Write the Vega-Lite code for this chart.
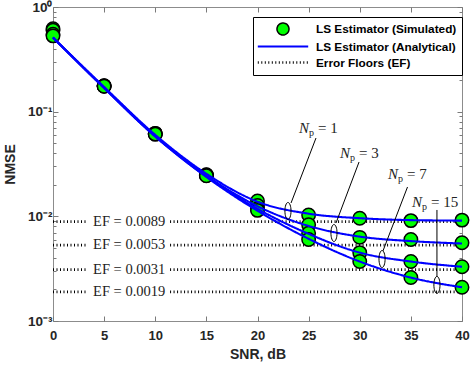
{
  "$schema": "https://vega.github.io/schema/vega-lite/v6.json",
  "width": 409,
  "height": 314,
  "autosize": {"type": "none"},
  "padding": {"left": 53, "top": 7, "right": 9, "bottom": 44},
  "background": "white",
  "config": {
    "view": {"stroke": "#8c8c8c", "strokeWidth": 1},
    "axis": {
      "domain": false,
      "grid": false,
      "tickColor": "#7a7a7a",
      "tickWidth": 1,
      "labelFont": "Liberation Sans",
      "labelFontWeight": "bold",
      "labelFontSize": 13,
      "labelColor": "#262626",
      "titleFont": "Liberation Sans",
      "titleFontWeight": "bold",
      "titleFontSize": 14,
      "titleColor": "#262626"
    },
    "legend": {
      "orient": "none",
      "legendX": 200,
      "legendY": 10,
      "strokeColor": "black",
      "fillColor": "white",
      "padding": 5,
      "labelFont": "Liberation Sans",
      "labelFontWeight": "bold",
      "labelFontSize": 11.8,
      "labelColor": "black",
      "symbolSize": 144,
      "rowPadding": 1,
      "labelOffset": 25.5,
      "symbolOffset": 17.5
    }
  },
  "datasets": {
    "sim": [
      {"snr": 0, "nmse": 0.62, "np": 1}, {"snr": 5, "nmse": 0.177, "np": 1}, {"snr": 10, "nmse": 0.062, "np": 1}, {"snr": 15, "nmse": 0.025, "np": 1}, {"snr": 20, "nmse": 0.014, "np": 1}, {"snr": 25, "nmse": 0.0103, "np": 1}, {"snr": 30, "nmse": 0.0096, "np": 1}, {"snr": 35, "nmse": 0.0091, "np": 1}, {"snr": 40, "nmse": 0.0092, "np": 1},
      {"snr": 0, "nmse": 0.6, "np": 3}, {"snr": 5, "nmse": 0.176, "np": 3}, {"snr": 10, "nmse": 0.062, "np": 3}, {"snr": 15, "nmse": 0.0248, "np": 3}, {"snr": 20, "nmse": 0.0127, "np": 3}, {"snr": 25, "nmse": 0.0083, "np": 3}, {"snr": 30, "nmse": 0.0063, "np": 3}, {"snr": 35, "nmse": 0.006, "np": 3}, {"snr": 40, "nmse": 0.0056, "np": 3},
      {"snr": 0, "nmse": 0.55, "np": 7}, {"snr": 5, "nmse": 0.176, "np": 7}, {"snr": 10, "nmse": 0.061, "np": 7}, {"snr": 15, "nmse": 0.0246, "np": 7}, {"snr": 20, "nmse": 0.0118, "np": 7}, {"snr": 25, "nmse": 0.0069, "np": 7}, {"snr": 30, "nmse": 0.0045, "np": 7}, {"snr": 35, "nmse": 0.0037, "np": 7}, {"snr": 40, "nmse": 0.0033, "np": 7},
      {"snr": 0, "nmse": 0.53, "np": 15}, {"snr": 5, "nmse": 0.175, "np": 15}, {"snr": 10, "nmse": 0.061, "np": 15}, {"snr": 15, "nmse": 0.0244, "np": 15}, {"snr": 20, "nmse": 0.0114, "np": 15}, {"snr": 25, "nmse": 0.006, "np": 15}, {"snr": 30, "nmse": 0.0037, "np": 15}, {"snr": 35, "nmse": 0.0026, "np": 15}, {"snr": 40, "nmse": 0.0021, "np": 15}
    ],
    "ana": [
      {"snr": 0, "nmse": 0.51, "np": 1}, {"snr": 5, "nmse": 0.172, "np": 1}, {"snr": 10, "nmse": 0.06, "np": 1}, {"snr": 15, "nmse": 0.0255, "np": 1}, {"snr": 20, "nmse": 0.0138, "np": 1}, {"snr": 25, "nmse": 0.0106, "np": 1}, {"snr": 30, "nmse": 0.0096, "np": 1}, {"snr": 35, "nmse": 0.0092, "np": 1}, {"snr": 40, "nmse": 0.0091, "np": 1},
      {"snr": 0, "nmse": 0.51, "np": 3}, {"snr": 5, "nmse": 0.17, "np": 3}, {"snr": 10, "nmse": 0.059, "np": 3}, {"snr": 15, "nmse": 0.0245, "np": 3}, {"snr": 20, "nmse": 0.0125, "np": 3}, {"snr": 25, "nmse": 0.0081, "np": 3}, {"snr": 30, "nmse": 0.0064, "np": 3}, {"snr": 35, "nmse": 0.0058, "np": 3}, {"snr": 40, "nmse": 0.0055, "np": 3},
      {"snr": 0, "nmse": 0.51, "np": 7}, {"snr": 5, "nmse": 0.169, "np": 7}, {"snr": 10, "nmse": 0.058, "np": 7}, {"snr": 15, "nmse": 0.024, "np": 7}, {"snr": 20, "nmse": 0.0118, "np": 7}, {"snr": 25, "nmse": 0.0068, "np": 7}, {"snr": 30, "nmse": 0.0045, "np": 7}, {"snr": 35, "nmse": 0.0037, "np": 7}, {"snr": 40, "nmse": 0.0033, "np": 7},
      {"snr": 0, "nmse": 0.51, "np": 15}, {"snr": 5, "nmse": 0.168, "np": 15}, {"snr": 10, "nmse": 0.058, "np": 15}, {"snr": 15, "nmse": 0.0238, "np": 15}, {"snr": 20, "nmse": 0.0113, "np": 15}, {"snr": 25, "nmse": 0.0061, "np": 15}, {"snr": 30, "nmse": 0.0037, "np": 15}, {"snr": 35, "nmse": 0.0026, "np": 15}, {"snr": 40, "nmse": 0.0021, "np": 15}
    ],
    "efseg": [
      {"ef": 0.0089, "from": 0, "to": 3.3}, {"ef": 0.0089, "from": 11.45, "to": 40},
      {"ef": 0.0053, "from": 0, "to": 3.3}, {"ef": 0.0053, "from": 11.45, "to": 40},
      {"ef": 0.0031, "from": 0, "to": 3.3}, {"ef": 0.0031, "from": 11.45, "to": 40},
      {"ef": 0.0019, "from": 0, "to": 3.3}, {"ef": 0.0019, "from": 11.45, "to": 40}
    ],
    "eflab": [
      {"ef": 0.0089, "at": 7.45, "label": "EF = 0.0089"},
      {"ef": 0.0053, "at": 7.45, "label": "EF = 0.0053"},
      {"ef": 0.0031, "at": 7.45, "label": "EF = 0.0031"},
      {"ef": 0.0019, "at": 7.45, "label": "EF = 0.0019"}
    ],
    "npann": [
      {"np": 1, "lx": 25.04, "ly": 0.0698, "eq": "= 1", "x1": 25.72, "y1": 0.056, "x2": 23.28, "y2": 0.01341, "ex": 22.98, "ey": 0.01125},
      {"np": 3, "lx": 29.05, "ly": 0.0403, "eq": "= 3", "x1": 29.93, "y1": 0.03305, "x2": 27.68, "y2": 0.00864, "ex": 27.48, "ey": 0.00693},
      {"np": 7, "lx": 33.74, "ly": 0.02538, "eq": "= 7", "x1": 34.67, "y1": 0.01907, "x2": 32.27, "y2": 0.004666, "ex": 32.18, "ey": 0.00391},
      {"np": 15, "lx": 36.09, "ly": 0.01371, "eq": "= 15", "x1": 37.55, "y1": 0.0115, "x2": 37.55, "y2": 0.002634, "ex": 37.55, "ey": 0.00221}
    ]
  },
  "layer": [
    {
      "data": {"name": "efseg"},
      "mark": {"type": "rule"},
      "encoding": {
        "x": {"field": "from", "type": "quantitative", "scale": {"domain": [0, 40], "nice": false},
          "axis": {"orient": "bottom", "values": [0, 5, 10, 15, 20, 25, 30, 35, 40], "tickSize": -5, "labelPadding": 13, "title": "SNR, dB", "titlePadding": 5, "labelFlush": false}},
        "x2": {"field": "to"},
        "y": {"field": "ef", "type": "quantitative", "scale": {"type": "log", "domain": [0.001, 1], "nice": false},
          "axis": {"orient": "left",
            "values": [0.001, 0.002, 0.003, 0.004, 0.005, 0.006, 0.007, 0.008, 0.009, 0.01, 0.02, 0.03, 0.04, 0.05, 0.06, 0.07, 0.08, 0.09, 0.1, 0.2, 0.3, 0.4, 0.5, 0.6, 0.7, 0.8, 0.9, 1],
            "tickSize": {"condition": {"test": "datum.value == 1 || datum.value == 0.1 || datum.value == 0.01 || datum.value == 0.001", "value": -5}, "value": -3},
            "labelExpr": "datum.value == 1 ? '10⁰' : datum.value == 0.1 ? '10⁻¹' : datum.value == 0.01 ? '10⁻²' : datum.value == 0.001 ? '10⁻³' : ''",
            "labelFontSize": 13.5, "labelOverlap": false, "labelFlush": false, "labelPadding": 6, "title": "NMSE", "titlePadding": 10}},
        "stroke": {"datum": "Error Floors (EF)", "type": "nominal",
          "scale": {"domain": ["LS Estimator (Simulated)", "LS Estimator (Analytical)", "Error Floors (EF)"], "range": ["#000000", "#0000ff", "#000000"]},
          "legend": {"title": null}},
        "strokeDash": {"datum": "Error Floors (EF)", "type": "nominal",
          "scale": {"domain": ["LS Estimator (Simulated)", "LS Estimator (Analytical)", "Error Floors (EF)"], "range": [[1, 0], [1, 0], [1, 2.5]]},
          "legend": {"title": null}},
        "strokeWidth": {"datum": "Error Floors (EF)", "type": "nominal",
          "scale": {"domain": ["LS Estimator (Simulated)", "LS Estimator (Analytical)", "Error Floors (EF)"], "range": [1.5, 2.7, 1.2]},
          "legend": {"title": null}}
      }
    },
    {
      "data": {"name": "eflab"},
      "mark": {"type": "text", "font": "Liberation Serif", "fontSize": 14.5, "color": "#222222", "align": "center", "baseline": "middle"},
      "encoding": {
        "x": {"field": "at", "type": "quantitative", "axis": null},
        "y": {"field": "ef", "type": "quantitative", "axis": null},
        "text": {"field": "label"}
      }
    },
    {
      "data": {"name": "sim"},
      "mark": {"type": "point", "filled": true, "size": 180, "opacity": 1},
      "encoding": {
        "x": {"field": "snr", "type": "quantitative", "axis": null},
        "y": {"field": "nmse", "type": "quantitative", "axis": null},
        "detail": {"field": "np"},
        "shape": {"datum": "LS Estimator (Simulated)", "type": "nominal",
          "scale": {"domain": ["LS Estimator (Simulated)", "LS Estimator (Analytical)", "Error Floors (EF)"], "range": ["circle", "M-4.2,0L4.2,0", "M-4.2,0L4.2,0"]},
          "legend": {"title": null}},
        "fill": {"datum": "LS Estimator (Simulated)", "type": "nominal",
          "scale": {"domain": ["LS Estimator (Simulated)", "LS Estimator (Analytical)", "Error Floors (EF)"], "range": ["#00ff00", "#0000ff", "#000000"]},
          "legend": {"title": null}},
        "stroke": {"datum": "LS Estimator (Simulated)", "type": "nominal"},
        "strokeWidth": {"datum": "LS Estimator (Simulated)", "type": "nominal"}
      }
    },
    {
      "data": {"name": "ana"},
      "mark": {"type": "line", "interpolate": "monotone"},
      "encoding": {
        "x": {"field": "snr", "type": "quantitative", "axis": null},
        "y": {"field": "nmse", "type": "quantitative", "axis": null},
        "detail": {"field": "np"},
        "stroke": {"datum": "LS Estimator (Analytical)", "type": "nominal"},
        "strokeDash": {"datum": "LS Estimator (Analytical)", "type": "nominal"},
        "strokeWidth": {"datum": "LS Estimator (Analytical)", "type": "nominal"}
      }
    },
    {
      "data": {"name": "npann"},
      "mark": {"type": "rule", "color": "black", "strokeWidth": 1},
      "encoding": {
        "x": {"field": "x1", "type": "quantitative", "axis": null},
        "y": {"field": "y1", "type": "quantitative", "axis": null},
        "x2": {"field": "x2"},
        "y2": {"field": "y2"}
      }
    },
    {
      "data": {"name": "npann"},
      "mark": {"type": "point", "shape": "M0,-1A0.36,1 0 1,1 0,1A0.36,1 0 1,1 0,-1Z", "size": 289, "filled": false, "stroke": "black", "strokeWidth": 1, "opacity": 1},
      "encoding": {
        "x": {"field": "ex", "type": "quantitative", "axis": null},
        "y": {"field": "ey", "type": "quantitative", "axis": null}
      }
    },
    {
      "data": {"name": "npann"},
      "mark": {"type": "text", "font": "Liberation Serif", "fontStyle": "italic", "fontSize": 15, "color": "#222222", "align": "right", "baseline": "middle"},
      "encoding": {
        "x": {"field": "lx", "type": "quantitative", "axis": null},
        "y": {"field": "ly", "type": "quantitative", "axis": null},
        "text": {"value": "N"}
      }
    },
    {
      "data": {"name": "npann"},
      "mark": {"type": "text", "font": "Liberation Serif", "fontSize": 10, "color": "#222222", "align": "left", "baseline": "middle", "dx": 0, "dy": 5},
      "encoding": {
        "x": {"field": "lx", "type": "quantitative", "axis": null},
        "y": {"field": "ly", "type": "quantitative", "axis": null},
        "text": {"value": "p"}
      }
    },
    {
      "data": {"name": "npann"},
      "mark": {"type": "text", "font": "Liberation Serif", "fontSize": 15, "color": "#222222", "align": "left", "baseline": "middle", "dx": 9},
      "encoding": {
        "x": {"field": "lx", "type": "quantitative", "axis": null},
        "y": {"field": "ly", "type": "quantitative", "axis": null},
        "text": {"field": "eq"}
      }
    },
    {
      "data": {"name": "efseg"},
      "mark": {"type": "rule", "opacity": 0},
      "encoding": {
        "x": {"field": "from", "type": "quantitative",
          "axis": {"orient": "top", "values": [0, 5, 10, 15, 20, 25, 30, 35, 40], "tickSize": -5, "labels": false, "title": null}},
        "y": {"field": "ef", "type": "quantitative",
          "axis": {"orient": "right",
            "values": [0.001, 0.002, 0.003, 0.004, 0.005, 0.006, 0.007, 0.008, 0.009, 0.01, 0.02, 0.03, 0.04, 0.05, 0.06, 0.07, 0.08, 0.09, 0.1, 0.2, 0.3, 0.4, 0.5, 0.6, 0.7, 0.8, 0.9, 1],
            "tickSize": {"condition": {"test": "datum.value == 1 || datum.value == 0.1 || datum.value == 0.01 || datum.value == 0.001", "value": -5}, "value": -3},
            "labels": false, "title": null}}
      }
    }
  ],
  "resolve": {"axis": {"x": "independent", "y": "independent"}}
}
